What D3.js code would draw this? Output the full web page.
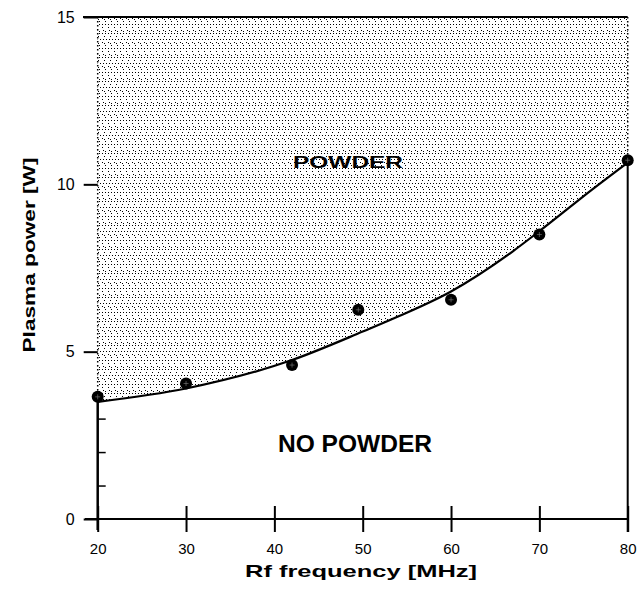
<!DOCTYPE html>
<html>
<head>
<meta charset="utf-8">
<script src="https://cdn.jsdelivr.net/npm/d3@7"></script>
<style>
  html, body { margin: 0; padding: 0; background: #fff; }
  svg { display: block; }
  text { font-family: "Liberation Sans", Arial, Helvetica, sans-serif; fill: #000; }
</style>
</head>
<body>
<svg id="chart" width="641" height="592"></svg>
<script>
// ---- data ----
const measFreq  = [20, 30, 42, 49.5, 60, 70, 80];
const measPower = [3.65, 4.05, 4.6, 6.25, 6.55, 8.5, 10.72];
const curveFreq  = [20, 30, 42, 50, 54, 60, 67, 70, 76, 80];
const curvePower = [3.5, 3.9, 4.75, 5.6, 6.05, 6.8, 8.0, 8.6, 9.85, 10.65];
const xTicks = [20, 30, 40, 50, 60, 70, 80];
const yTicks = [0, 5, 10, 15];
const yMinor = [1, 2, 3];
const xLabel = "Rf frequency [MHz]";
const yLabel = "Plasma power [W]";
const regionAbove = "POWDER";
const regionBelow = "NO POWDER";

const svg = d3.select("#chart");
const x = d3.scaleLinear().domain([20, 80]).range([97.7, 627.7]);
const y = d3.scaleLinear().domain([0, 15]).range([519, 17]);

// dotted halftone pattern (sparse dots in rows, with lighter bands)
const defs = svg.append("defs");
const pat = defs.append("pattern").attr("id", "dots")
  .attr("patternUnits", "userSpaceOnUse").attr("width", 24).attr("height", 24);
const dotPos = [];
// row 0: full, row 3: sparse, row 6: diagonal pairs, row 9: full, row 12: empty-ish, row 15: full, row 18: pairs, row 21: sparse
for (let c = 0; c < 24; c += 3) { dotPos.push([c, 0]); dotPos.push([c, 9]); dotPos.push([c + 1, 15]); }
for (let c = 0; c < 24; c += 6) { dotPos.push([c, 3]); dotPos.push([c + 3, 21]); dotPos.push([c + 2, 12]); }
for (let c = 0; c < 24; c += 6) { dotPos.push([c + 1, 6]); dotPos.push([c + 3, 7]); dotPos.push([c, 18]); dotPos.push([c + 2, 19]); }
pat.selectAll("rect").data(dotPos).join("rect")
  .attr("x", d => d[0]).attr("y", d => d[1]).attr("width", 1.2).attr("height", 1.2)
  .attr("fill", "#000").attr("shape-rendering", "crispEdges");

const curveData = curveFreq.map((f, i) => [f, curvePower[i]]);

// shaded POWDER region
svg.append("path")
  .datum(curveData)
  .attr("d", d3.area().x(d => x(d[0])).y0(y(15)).y1(d => y(d[1])).curve(d3.curveMonotoneX))
  .attr("fill", "url(#dots)");

// dotted side edges above the curve
svg.append("line").attr("x1", x(20)).attr("x2", x(20)).attr("y1", y(15)).attr("y2", y(curvePower[0]))
  .attr("stroke", "#000").attr("stroke-width", 1.5).attr("stroke-dasharray", "1.5,2.5");
svg.append("line").attr("x1", x(80)).attr("x2", x(80)).attr("y1", y(15)).attr("y2", y(curvePower[curvePower.length-1]))
  .attr("stroke", "#000").attr("stroke-width", 1.5).attr("stroke-dasharray", "1.5,2.5");

// top border
svg.append("line").attr("x1", 83).attr("x2", x(80)).attr("y1", y(15)).attr("y2", y(15))
  .attr("stroke", "#000").attr("stroke-width", 2);

// solid left axis (below curve) and right edge
svg.append("line").attr("x1", x(20)).attr("x2", x(20)).attr("y1", y(curvePower[0])).attr("y2", 530)
  .attr("stroke", "#000").attr("stroke-width", 2.5);
svg.append("line").attr("x1", x(80)).attr("x2", x(80)).attr("y1", y(curvePower[curvePower.length-1])).attr("y2", 532)
  .attr("stroke", "#000").attr("stroke-width", 2);

// x axis line
svg.append("line").attr("x1", 85).attr("x2", x(80)).attr("y1", y(0)).attr("y2", y(0))
  .attr("stroke", "#000").attr("stroke-width", 2);

// x axis ticks (crossing) + labels
const xb = svg.append("g").attr("transform", `translate(0,${y(0)})`)
  .call(d3.axisBottom(x).tickValues(xTicks).tickSize(13).tickFormat(d3.format("d")));
const xt = svg.append("g").attr("transform", `translate(0,${y(0)})`)
  .call(d3.axisTop(x).tickValues(xTicks).tickSize(13).tickFormat(""));
[xb, xt].forEach(g => {
  g.select(".domain").remove();
  g.selectAll(".tick line").attr("stroke", "#000").attr("stroke-width", 2);
});
xb.selectAll(".tick text").attr("y", 30).attr("dy", "0.35em")
  .attr("font-size", 15).attr("fill", "#000");

// y axis major ticks + labels
const yl = svg.append("g").attr("transform", `translate(${x(20)},0)`)
  .call(d3.axisLeft(y).tickValues(yTicks).tickSize(14).tickFormat(d3.format("d")));
yl.select(".domain").remove();
yl.selectAll(".tick line").attr("stroke", "#000").attr("stroke-width", 2);
yl.selectAll(".tick text").attr("x", -23).attr("font-size", 16).attr("fill", "#000");
// minor ticks to the right
const yr = svg.append("g").attr("transform", `translate(${x(20)},0)`)
  .call(d3.axisRight(y).tickValues(yMinor).tickSize(8).tickFormat(""));
yr.select(".domain").remove();
yr.selectAll(".tick line").attr("stroke", "#000").attr("stroke-width", 1.5);

// boundary curve
svg.append("path")
  .datum(curveData)
  .attr("d", d3.line().x(d => x(d[0])).y(d => y(d[1])).curve(d3.curveMonotoneX))
  .attr("fill", "none").attr("stroke", "#000").attr("stroke-width", 2.2);

// measured points
const pts = svg.append("g").selectAll("g").data(measFreq.map((f, i) => [f, measPower[i]])).join("g")
  .attr("transform", d => `translate(${x(d[0])},${y(d[1])})`);
pts.append("circle").attr("r", 6).attr("fill", "#000");
pts.append("path").attr("d", "M-2.5,0H2.5M0,-2.5V2.5")
  .attr("stroke", "#fff").attr("stroke-width", 0.6).attr("opacity", 0.5);

// region labels
svg.append("text").attr("x", 348).attr("y", 168).attr("text-anchor", "middle")
  .attr("font-size", 16).attr("font-weight", "bold")
  .attr("textLength", 110).attr("lengthAdjust", "spacingAndGlyphs")
  .text(regionAbove);
svg.append("text").attr("x", 355).attr("y", 452).attr("text-anchor", "middle")
  .attr("font-size", 23).attr("font-weight", "bold")
  .attr("textLength", 154).attr("lengthAdjust", "spacingAndGlyphs")
  .text(regionBelow);

// axis titles
svg.append("text").attr("x", 361).attr("y", 577).attr("text-anchor", "middle")
  .attr("font-size", 17).attr("font-weight", "bold")
  .attr("textLength", 232).attr("lengthAdjust", "spacingAndGlyphs")
  .text(xLabel);
svg.append("text").attr("transform", "translate(35,255) rotate(-90)").attr("text-anchor", "middle")
  .attr("font-size", 17).attr("font-weight", "bold")
  .attr("textLength", 195).attr("lengthAdjust", "spacingAndGlyphs")
  .text(yLabel);
</script>
</body>
</html>
